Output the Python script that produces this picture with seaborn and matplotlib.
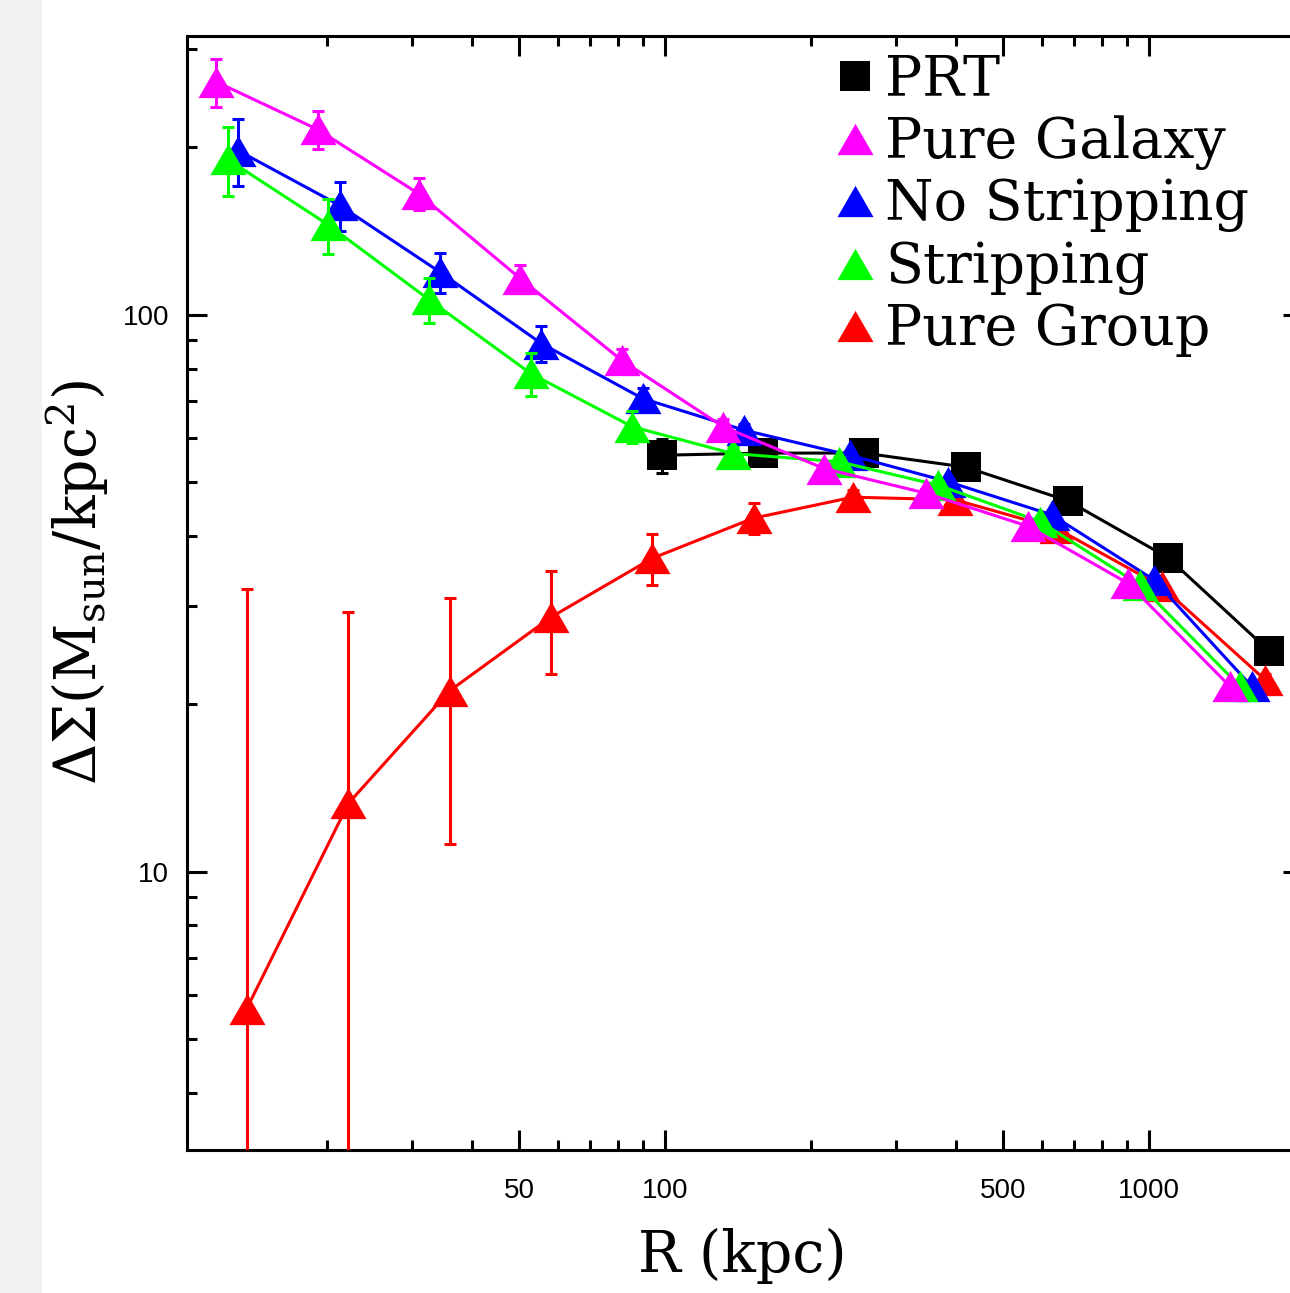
import matplotlib
matplotlib.use("Agg")
import matplotlib.pyplot as plt
import matplotlib.ticker as mticker
from matplotlib.lines import Line2D
from matplotlib.patches import Rectangle
from matplotlib.path import Path
import seaborn as sns
import pandas as pd

# values (R in kpc, Delta Sigma in Msun/kpc^2)
prt_r = [98.6, 159.4, 257.7, 418.8, 680, 1095, 1770]
prt_ds = [55.9, 56.4, 56.4, 53.2, 46.3, 36.6, 24.9]
prt_err = [4.0, 1.5, 1.0, 1.0, 1.0, 0.8, 0.6]

galaxy_r = [11.81, 19.16, 31.0, 50.3, 81.4, 131.9, 213.4, 345.6, 561.5, 906.2, 1470]
galaxy_ds = [262, 215, 164.8, 116, 82.8, 62.9, 52.9, 47.8, 41.7, 32.9, 21.5]
galaxy_err = [26, 17, 11, 6.7, 4, 2, 1, 0.8, 0.6, 0.5, 0.4]

nostrip_r = [13.13, 21.3, 34.3, 55.6, 89.9, 145.8, 241.1, 384.9, 629.5, 1024, 1630]
nostrip_ds = [197, 157, 119.2, 88.7, 70.7, 62.0, 55.9, 50.1, 43.7, 33.4, 21.5]
nostrip_err = [27, 16, 10, 6.5, 3, 1.5, 1, 0.8, 0.6, 0.5, 0.4]

strip_r = [12.49, 20.15, 32.5, 52.8, 85.6, 138, 229.1, 367, 595.5, 958, 1542]
strip_ds = [190, 145, 106.5, 78.4, 62.9, 56.3, 54.4, 49.4, 42.5, 32.7, 21.5]
strip_err = [27, 16.3, 10, 7, 4.2, 1.5, 1, 0.8, 0.6, 0.5, 0.4]

group_r = [13.68, 22.2, 35.9, 58.1, 94.1, 152.5, 244.6, 397.4, 644.6, 1062, 1737]
group_ds = [5.67, 13.26, 21.1, 28.6, 36.5, 43.1, 47.0, 46.5, 41.3, 32.5, 22.1]
group_err = [26.5, 16.0, 9.9, 6.0, 3.8, 2.7, 1.5, 1.0, 0.8, 0.6, 0.5]

x_major = [50, 100, 500, 1000]
x_minor = [20, 30, 40, 60, 70, 80, 90, 200, 300, 400, 600, 700, 800, 900, 2000]
y_major = [10, 100]

sns.set_style("white")
plt.rcParams["font.family"] = ["DejaVu Serif", "DejaVu Sans"]
plt.rcParams["mathtext.fontset"] = "dejavuserif"
plt.rcParams["text.color"] = "black"
plt.rcParams["axes.labelcolor"] = "black"
plt.rcParams["xtick.color"] = "black"
plt.rcParams["ytick.color"] = "black"

tri = Path([(-1, -0.866), (1, -0.866), (0, 0.866), (-1, -0.866)],
           [Path.MOVETO, Path.LINETO, Path.LINETO, Path.CLOSEPOLY])

series = [
    ("PRT", prt_r, prt_ds, prt_err, "black", "s", 21.5),
    ("Pure Group", group_r, group_ds, group_err, "#ff0000", tri, 26),
    ("No Stripping", nostrip_r, nostrip_ds, nostrip_err, "#0000ff", tri, 26),
    ("Stripping", strip_r, strip_ds, strip_err, "#00ff00", tri, 26),
    ("Pure Galaxy", galaxy_r, galaxy_ds, galaxy_err, "#ff00ff", tri, 26),
]

fig = plt.figure(figsize=(12.9, 12.93), dpi=100)
fig.patches.append(Rectangle((0, 0), 42 / 1290, 1, transform=fig.transFigure,
                             facecolor="#f2f2f2", edgecolor="none", zorder=-5))
ax = fig.add_axes([0.145, 0.1106, 0.865, 0.8615])
ax.set_xscale("log")
ax.set_yscale("log")

for i, (name, r, ds, err, col, mk, ms) in enumerate(series):
    df = pd.DataFrame({"R": r, "DS": ds})
    ax.errorbar(r, ds, yerr=err, fmt="none", ecolor=col, elinewidth=2.2,
                capsize=4, capthick=2.2, zorder=2 + i)
    sns.lineplot(data=df, x="R", y="DS", ax=ax, color=col, lw=2.2,
                 marker=mk, ms=ms, mec=col, mew=0, sort=False,
                 errorbar=None, zorder=3 + i)

ax.set_xlim(10.3, 2080)
ax.set_ylim(10 ** 0.5, 10 ** 2.5)

ax.xaxis.set_major_locator(mticker.FixedLocator(x_major))
ax.xaxis.set_minor_locator(mticker.FixedLocator(x_minor))
ax.xaxis.set_major_formatter(mticker.FixedFormatter([str(v) for v in x_major]))
ax.xaxis.set_minor_formatter(mticker.NullFormatter())
ax.yaxis.set_major_locator(mticker.FixedLocator(y_major))
ax.yaxis.set_minor_locator(mticker.LogLocator(base=10, subs=range(2, 10)))
ax.yaxis.set_major_formatter(mticker.FixedFormatter([str(v) for v in y_major]))
ax.yaxis.set_minor_formatter(mticker.NullFormatter())

ax.tick_params(which="both", direction="in", top=True, right=True,
               bottom=True, left=True, width=2.2, color="black",
               labelcolor="black")
ax.tick_params(which="major", length=14.5)
ax.tick_params(which="minor", length=7.2)
ax.tick_params(axis="x", which="major", pad=20)
ax.tick_params(axis="y", which="major", pad=13)
for lab in ax.get_xticklabels() + ax.get_yticklabels():
    lab.set_fontfamily("Liberation Sans")
    lab.set_fontsize(20)

for sp in ax.spines.values():
    sp.set_linewidth(2.2)
    sp.set_color("black")

ax.set_xlabel("R (kpc)", fontsize=41)
ax.set_ylabel(r"$\Delta\Sigma$(M$_{\rm sun}$/kpc$^2$)", fontsize=41)
ax.xaxis.set_label_coords(0.498, -0.07)
ax.yaxis.set_label_coords(-0.068, 0.51)

order = ["PRT", "Pure Galaxy", "No Stripping", "Stripping", "Pure Group"]
lookup = {s[0]: s for s in series}
handles = [Line2D([], [], ls="none", marker=lookup[n][5], ms=lookup[n][6],
                  color=lookup[n][4], mew=0) for n in order]
ax.legend(handles, order, loc="upper left", bbox_to_anchor=(0.5833, 0.985),
          frameon=False, fontsize=40, borderaxespad=0, borderpad=0,
          handlelength=0.6, handletextpad=0.25, labelspacing=0.14)

fig.savefig("out.png", dpi=100)
